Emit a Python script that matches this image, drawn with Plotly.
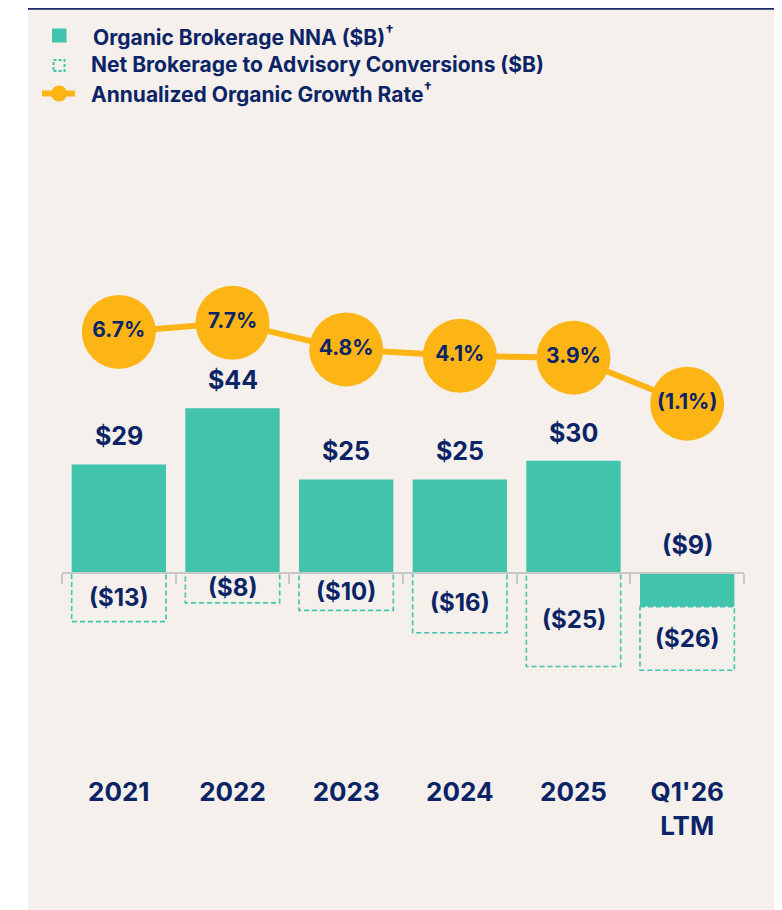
import plotly.graph_objects as go

# ---------------- data ----------------
categories = ["2021", "2022", "2023", "2024", "2025", "Q1'26<br>LTM"]
organic_nna = [29, 44, 25, 25, 30, -9]            # $B
conversions = [-13, -8, -10, -16, -25, -26]       # $B
growth_rate = [6.7, 7.7, 4.8, 4.1, 3.9, -1.1]     # %
series_names = [
    "Organic Brokerage NNA ($B)<sup>†</sup>",
    "Net Brokerage to Advisory Conversions ($B)",
    "Annualized Organic Growth Rate<sup>†</sup>",
]

# ---------------- style ----------------
TEAL = "#41C3AC"
NAVY = "#0B2466"
ORANGE = "#FDB515"
GREY = "#C8C8C8"
BEIGE = "#F5F0EC"
FONT = "Inter"
BAR_W = 0.83

W, H = 782, 910
OFF = 8  # page body margin in the browser
ML, MT = 62 - OFF, 130 - OFF
PLOT_R, PLOT_B = 744 - OFF, 760 - OFF
MR, MB = W - PLOT_R, H - PLOT_B
PW, PH = PLOT_R - ML, PLOT_B - MT


def px_x(sx):
    return (sx - OFF - ML) / PW


def px_y(sy):
    return (PLOT_B - (sy - OFF)) / PH


def money(v):
    return f"${v}" if v >= 0 else f"(${-v})"


def pct(v):
    return f"{v:.1f}%" if v >= 0 else f"({-v:.1f}%)"


Y_RANGE = [-50.0, 118.4]
Y2_RANGE = [-39.83, 28.65]

fig = go.Figure()

fig.add_trace(go.Bar(
    x=categories, y=organic_nna, name=series_names[0],
    marker=dict(color=TEAL, line=dict(width=0)), width=BAR_W,
    hovertemplate="%{x}: %{y}<extra></extra>",
))

fig.add_trace(go.Scatter(
    x=categories, y=growth_rate, xaxis="x2", yaxis="y2",
    name=series_names[2],
    mode="lines+markers+text",
    line=dict(color=ORANGE, width=6),
    marker=dict(color=ORANGE, size=74, line=dict(width=0)),
    text=[pct(g) for g in growth_rate], textposition="middle center",
    textfont=dict(family=FONT, size=21, color=NAVY, weight="bold"),
    cliponaxis=False,
    hovertemplate="%{x}: %{y}%<extra></extra>",
))

shapes = []
annotations = []
for i, (n, c) in enumerate(zip(organic_nna, conversions)):
    top = min(n, 0)
    shapes.append(dict(
        type="rect", xref="x", yref="y",
        x0=i - BAR_W / 2, x1=i + BAR_W / 2, y0=top, y1=c,
        line=dict(color=TEAL, width=1.6, dash="5px,3px"),
        fillcolor="rgba(0,0,0,0)", layer="below",
    ))
    annotations.append(dict(
        x=i, y=max(n, 0), xref="x", yref="y", text=money(n),
        showarrow=False, yanchor="middle", yshift=28,
        font=dict(family=FONT, size=25, color=NAVY, weight="bold"),
    ))
    annotations.append(dict(
        x=i, y=(top + c) / 2, xref="x", yref="y", text=money(c),
        showarrow=False, yanchor="middle",
        font=dict(family=FONT, size=24, color=NAVY, weight="bold"),
    ))

# page frame: white left strip, navy top rule
shapes.append(dict(type="rect", xref="paper", yref="paper",
                   x0=px_x(0), x1=px_x(28), y0=px_y(H + OFF), y1=px_y(0),
                   fillcolor="white", line=dict(width=0), layer="below"))
shapes.append(dict(type="line", xref="paper", yref="paper",
                   x0=px_x(28), x1=px_x(W + OFF), y0=px_y(8.8), y1=px_y(8.8),
                   line=dict(color="#1B2A6B", width=2), layer="below"))

# ---------------- legend (drawn) ----------------
P = dict(xref="paper", yref="paper")
# solid square
shapes.append(dict(type="rect", **P, x0=px_x(52), x1=px_x(66.5), y0=px_y(42.5), y1=px_y(28.5),
                   fillcolor=TEAL, line=dict(width=0)))
# dashed square
shapes.append(dict(type="rect", **P, x0=px_x(53.5), x1=px_x(64.5), y0=px_y(71), y1=px_y(60),
                   fillcolor="rgba(0,0,0,0)", line=dict(color=TEAL, width=2, dash="3px,2px")))
# line + dot
shapes.append(dict(type="line", **P, x0=px_x(42), x1=px_x(75), y0=px_y(93.5), y1=px_y(93.5),
                   line=dict(color=ORANGE, width=6)))
shapes.append(dict(type="circle", **P, x0=px_x(51), x1=px_x(67), y0=px_y(101.5), y1=px_y(85.5),
                   fillcolor=ORANGE, line=dict(width=0)))

legend_text_pos = [(91, 35.5), (88.5, 64.5), (88.5, 93)]
for name, (lx, ly) in zip(series_names, legend_text_pos):
    annotations.append(dict(
        **P, x=px_x(lx), y=px_y(ly), text=name, showarrow=False,
        xanchor="left", yanchor="middle",
        font=dict(family=FONT, size=21, color=NAVY, weight="bold"),
    ))

zero_pos = (0 - Y_RANGE[0]) / (Y_RANGE[1] - Y_RANGE[0])

fig.update_layout(
    width=W, height=H,
    margin=dict(l=ML, r=MR, t=MT, b=MB),
    paper_bgcolor=BEIGE, plot_bgcolor="rgba(0,0,0,0)",
    barmode="overlay",
    showlegend=False,
    xaxis=dict(
        type="category", categoryorder="array", categoryarray=categories,
        range=[-0.5, 5.5], showline=False, showgrid=False, zeroline=False,
        ticks="", ticklabelstandoff=14,
        tickfont=dict(family=FONT, size=26, color=NAVY, weight="bold"),
    ),
    xaxis2=dict(
        type="category", overlaying="x", matches="x", anchor="free", position=zero_pos,
        showline=True, linecolor=GREY, linewidth=2,
        ticks="outside", ticklen=10, tickwidth=2, tickcolor=GREY,
        tickson="boundaries", showticklabels=False, showgrid=False, zeroline=False,
    ),
    yaxis=dict(range=Y_RANGE, visible=False, showgrid=False, zeroline=False),
    yaxis2=dict(range=Y2_RANGE, overlaying="y", anchor="x", visible=False,
                showgrid=False, zeroline=False),
    shapes=shapes,
    annotations=annotations,
    hovermode="closest",
)

fig.write_html("out.html")
